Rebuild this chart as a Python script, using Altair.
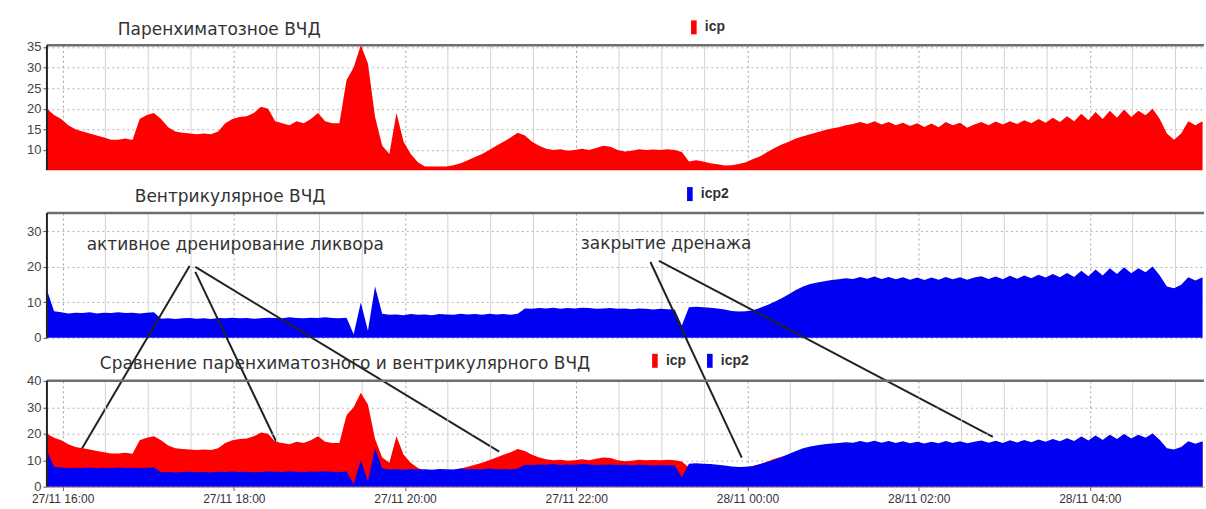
import altair as alt
import pandas as pd

# ICP recordings, one reading every 5 minutes starting 27/11 15:49
START = "2023-11-27 15:49"

icp = [
    20, 18.5, 17.5, 16, 15, 14.5, 14, 13.5, 13, 12.5,
    12.5, 12.8, 12.4, 17.5, 18.5, 19, 17.5, 15.5, 14.5, 14.2,
    14, 13.8, 14, 13.8, 14.5, 16.5, 17.5, 18, 18.2, 19,
    20.5, 20, 17, 16.5, 16, 17, 16.5, 17.5, 19, 17,
    16.5, 16.5, 27, 30, 35.5, 31, 18, 11, 9, 19,
    12, 9, 7, 6, 6, 6, 6, 6.3, 6.8, 7.5,
    8.3, 9, 10, 11, 12, 13, 14.2, 13.5, 12, 11,
    10.3, 10, 10.2, 9.8, 10, 10.3, 10, 10.5, 11, 10.8,
    10, 9.6, 9.8, 10.2, 10, 10.1, 10, 10.2, 10, 9.5,
    7.2, 7.5, 7.2, 6.8, 6.5, 6.2, 6.3, 6.6, 7, 7.8,
    8.5, 9.5, 10.5, 11.3, 12, 12.8, 13.3, 13.8, 14.3, 14.8,
    15.2, 15.5, 16, 16.3, 16.8, 16.3, 17, 16.2, 16.8, 16,
    16.6, 15.8, 16.5, 15.6, 16.4, 15.5, 16.8, 16, 16.6, 15.4,
    16.2, 16.8, 16, 16.9, 16.2, 17, 16.3, 17.2, 16.5, 17.5,
    16.6, 17.8, 16.8, 18.2, 17, 18.8, 17.2, 19.2, 17.5, 19.5,
    17.8, 19.8, 18, 19.5, 18.4, 20, 17.5, 14, 12.5, 14,
    17, 16, 17,
]

icp2 = [
    13.5, 7.5, 7.2, 6.9, 7.1, 7.0, 7.2, 6.9, 7.1, 7.0,
    7.2, 7.0, 7.1, 6.9, 7.1, 7.2, 5.4, 5.5, 5.3, 5.5,
    5.6, 5.4, 5.5, 5.3, 5.6, 5.5, 5.7, 5.5, 5.6, 5.4,
    5.5, 5.7, 5.6, 5.5, 5.8, 5.6, 5.5, 5.7, 5.6, 5.8,
    5.6, 5.5, 5.7, 1.0, 10, 2, 14.5, 6.8, 6.5, 6.6,
    6.4, 6.7, 6.5, 6.6, 6.4, 6.7, 6.6, 6.5, 6.8, 6.6,
    6.7, 6.5, 6.8, 6.6, 6.7, 6.5, 6.8, 8.3, 8.2, 8.4,
    8.3, 8.5, 8.2, 8.4, 8.3, 8.5, 8.4, 8.2, 8.3, 8.4,
    8.2, 8.3, 8.1, 8.3, 8.2, 8.0, 8.2, 8.1, 8.0, 3.5,
    8.6, 8.8, 8.6, 8.5, 8.3, 8.0, 7.6, 7.4, 7.5, 7.8,
    8.5, 9.3, 10.2, 11.2, 12.3, 13.5, 14.5, 15.2, 15.6, 16,
    16.3, 16.5, 16.8, 16.6, 17.2, 16.7, 17.3, 16.6, 17.2, 16.5,
    17.1, 16.4, 17.0, 16.3, 17.0, 16.4, 17.2, 16.5, 17.1, 16.4,
    17.0, 17.4, 16.6, 17.3, 16.5, 17.5, 16.7, 17.6, 16.8, 17.8,
    17.0, 18.0, 17.1, 18.3, 17.2, 18.9, 17.4, 19.3, 17.6, 19.6,
    18.0, 19.9, 18.2, 19.6, 18.5, 20.1, 17.6, 14.5, 14.0, 15.0,
    17.1, 16.2, 17.1,
]

RED = "#ff0000"
BLUE = "#0000f2"

# Callout lines, anchored in the ventricular panel's value scale
# (negative values reach down into the comparison panel below)
ann_t0 = ["2023-11-27 17:29", "2023-11-27 17:33", "2023-11-27 17:33",
          "2023-11-27 22:52", "2023-11-27 22:58"]
ann_v0 = [20.3, 18.6, 20.0, 21.4, 21.7]
ann_t1 = ["2023-11-27 16:11", "2023-11-27 18:38", "2023-11-27 21:06",
          "2023-11-27 23:56", "2023-11-28 02:52"]
ann_v1 = [-33.0, -36.3, -32.1, -33.8, -27.9]

# Callout captions placed on the ventricular panel
cap_text = ["активное дренирование ликвора", "закрытие дренажа"]
cap_t = ["2023-11-27 18:01", "2023-11-27 23:03"]
cap_v = [26.2, 26.5]

W = 1159
FONT = "Liberation Sans"
TITLE_FONT = "DejaVu Sans"

times = pd.date_range(START, periods=len(icp), freq="5min")
long_df = pd.concat([
    pd.DataFrame({"time": times, "value": icp, "series": "icp"}),
    pd.DataFrame({"time": times, "value": icp2, "series": "icp2"}),
], ignore_index=True)
lines_df = pd.DataFrame({"t0": pd.to_datetime(ann_t0), "v0": ann_v0,
                         "t1": pd.to_datetime(ann_t1), "v1": ann_v1})
caps_df = pd.DataFrame({"t": pd.to_datetime(cap_t), "v": cap_v, "label": cap_text})

# Half-hour gridlines (the even hours get the dotted major grid of the axis)
half_hours = pd.date_range("2023-11-27 16:00", "2023-11-28 05:00", freq="30min")
minor_df = pd.DataFrame({"t": [t for t in half_hours if not (t.minute == 0 and t.hour % 2 == 0)]})
major_ticks = [alt.DateTime(year=2023, month=11, date=27 if h >= 16 else 28, hours=h)
               for h in [16, 18, 20, 22, 0, 2, 4]]

x_scale = alt.Scale(domain=[
    alt.DateTime(year=2023, month=11, date=27, hours=15, minutes=49),
    alt.DateTime(year=2023, month=11, date=28, hours=5, minutes=20),
])


def x_axis(show_labels):
    return alt.Axis(
        title=None,
        values=major_ticks,
        format="%d/%m %H:%M",
        grid=True,
        gridColor="#a0a0a0",
        gridDash=[2, 3],
        domain=show_labels,
        domainColor="#888",
        ticks=show_labels,
        tickSize=4,
        tickColor="#666",
        labels=show_labels,
        labelOverlap=False,
        labelFont=FONT,
        labelFontSize=12,
        labelColor="#333",
        labelPadding=3,
    )


def y_axis(values):
    return alt.Axis(
        title=None, values=values, grid=True, gridColor="#b4b4b4",
        gridDash=[2, 3], domain=False, tickColor="#555", tickSize=4,
        labelFont=FONT, labelFontSize=13, labelColor="#444", labelPadding=2,
    )


def legend(x, y, horizontal=False):
    return alt.Legend(
        title=None, orient="none", legendX=x, legendY=y,
        direction="horizontal" if horizontal else "vertical",
        symbolType="M-0.4,-1H0.4V1H-0.4Z", symbolSize=196, symbolStrokeWidth=0,
        labelFont=FONT, labelFontSize=14, labelFontWeight="bold",
        labelColor="#333", columnPadding=16, padding=0, labelOffset=4,
    )


def minor_grid(height):
    return alt.Chart(minor_df).mark_rule(color="#d2d2d2", strokeWidth=1).encode(
        x=alt.X("t:T", scale=x_scale, title=None),
        y=alt.value(0), y2=alt.value(height),
    )


def frame(height):
    top = alt.Chart(pd.DataFrame({"k": [0]})).mark_rule(
        color="#6e6e6e", strokeWidth=2.5
    ).encode(x=alt.value(0), x2=alt.value(W), y=alt.value(0))
    left = alt.Chart(pd.DataFrame({"k": [0]})).mark_rule(
        color="#222", strokeWidth=2
    ).encode(x=alt.value(0), y=alt.value(0), y2=alt.value(height))
    return top + left


def title(text, dx):
    # negative offset: the legend sits above the plot, keep the title level with it
    return alt.TitleParams(
        text=text, anchor="start", frame="group", dx=dx, offset=-19,
        font=TITLE_FONT, fontSize=17, fontWeight="normal", color="#333",
    )


def area_layer(series, y_scale, y_values, color_scale, leg, show_x, clip=False):
    return alt.Chart(long_df).transform_filter(
        alt.datum.series == series
    ).mark_area(clip=clip).encode(
        x=alt.X("time:T", scale=x_scale, axis=x_axis(show_x)),
        y=alt.Y("value:Q", scale=y_scale, axis=y_axis(y_values)),
        color=alt.Color("series:N", scale=color_scale, legend=leg),
    )


# Panel 1: parenchymal ICP
y1 = alt.Scale(domain=[5.1, 35.4], nice=False, zero=False)
c1 = alt.Scale(domain=["icp"], range=[RED])
p1 = alt.layer(
    minor_grid(125),
    area_layer("icp", y1, [10, 15, 20, 25, 30, 35], c1, legend(641, -25), False, clip=True),
    frame(125),
).properties(width=W, height=125, title=title("Паренхиматозное ВЧД", 71))

# Panel 2: ventricular ICP with the callouts
y2 = alt.Scale(domain=[0, 35.2], nice=False)
c2 = alt.Scale(domain=["icp2"], range=[BLUE])
caps = alt.Chart(caps_df).mark_text(
    font=TITLE_FONT, fontSize=17, color="#333"
).encode(
    x=alt.X("t:T", scale=x_scale, title=None),
    y=alt.Y("v:Q", scale=y2, title=None),
    text="label:N",
)
callouts = alt.Chart(lines_df).mark_rule(color="#222", strokeWidth=2).encode(
    x=alt.X("t0:T", scale=x_scale, title=None),
    x2="t1:T",
    y=alt.Y("v0:Q", scale=y2, title=None),
    y2="v1:Q",
)
p2 = alt.layer(
    minor_grid(125),
    area_layer("icp2", y2, [0, 10, 20, 30], c2, legend(637, -26), False),
    frame(125),
    caps,
    callouts,
).properties(width=W, height=125, title=title("Вентрикулярное ВЧД", 88))

# Panel 3: both signals overlaid
y3 = alt.Scale(domain=[0, 40], nice=False)
c3 = alt.Scale(domain=["icp", "icp2"], range=[RED, BLUE])
p3 = alt.layer(
    minor_grid(106),
    area_layer("icp", y3, [0, 10, 20, 30, 40], c3, legend(602, -27, True), True),
    area_layer("icp2", y3, [0, 10, 20, 30, 40], c3, legend(602, -27, True), True),
    frame(106),
).properties(width=W, height=106,
             title=title("Сравнение паренхиматозного и вентрикулярного ВЧД", 53))

chart = alt.vconcat(p1, p2, p3, spacing=43, bounds="flush").resolve_scale(
    color="independent"
).resolve_legend(
    color="independent"
).configure_view(
    stroke=None
).properties(
    padding={"left": 26, "top": 20, "right": 0, "bottom": 0},
    background="white",
)

chart.save("out.html", embed_options={"renderer": "svg", "actions": False})
